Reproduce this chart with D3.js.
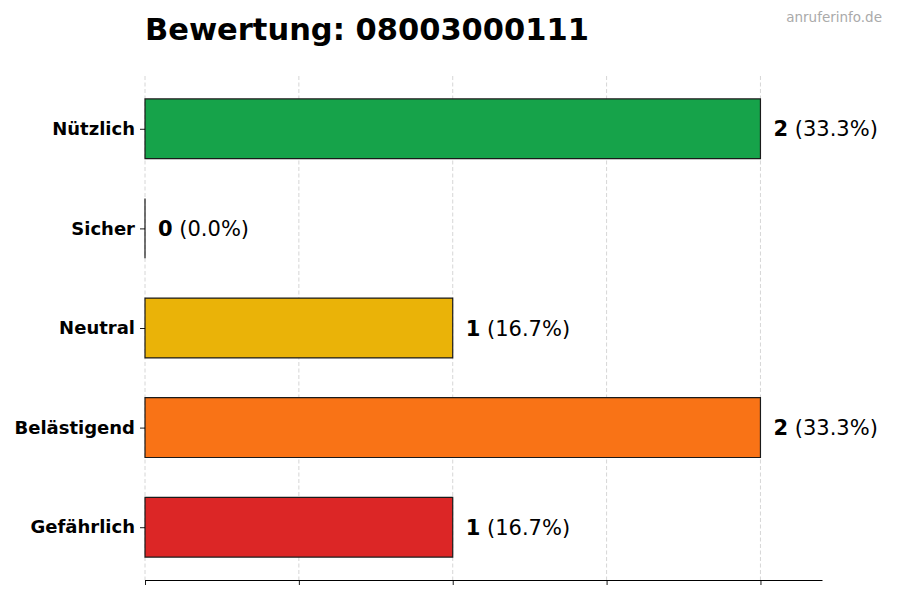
<!DOCTYPE html>
<html><head><meta charset="utf-8">
<script src="https://cdn.jsdelivr.net/npm/d3@7"></script>
<style>body{margin:0;background:#fff}svg{display:block}text{font-family:"DejaVu Sans",sans-serif}</style>
</head><body><svg id="c" width="900" height="600"></svg>
<script>
const categories = ["Nützlich","Sicher","Neutral","Belästigend","Gefährlich"];
const values = [2,0,1,2,1];
const percents = ["33.3%","0.0%","16.7%","33.3%","16.7%"];
const colors = ["#16a34a","#6b7280","#eab308","#f97316","#dc2626"];
const xTicks = [0,0.5,1,1.5,2];
const title = "Bewertung: 08003000111";
const watermark = "anruferinfo.de";

const svg = d3.select("#c");
const x = d3.scaleLinear().domain([0,2.2]).range([145,822]);
const y = d3.scaleLinear().domain([-0.53,4.53]).range([76,580]);
const barH = y(0.3)-y(-0.3);

// grid
svg.append("g").selectAll("line").data(xTicks).join("line")
  .attr("x1",d=>x(d)).attr("x2",d=>x(d)).attr("y1",y(-0.53)).attr("y2",y(4.53))
  .attr("stroke","#cccccc").attr("stroke-width",0.8).attr("stroke-dasharray","4,2.5");

// bars (as paths so zero-width bars still show their edge)
svg.append("g").selectAll("path").data(values).join("path")
  .attr("d",(d,i)=>{
    const p = d3.path();
    const x0 = x(0), y0 = y(i)-barH/2, w = x(d)-x(0);
    p.moveTo(x0,y0); p.lineTo(x0+w,y0); p.lineTo(x0+w,y0+barH); p.lineTo(x0,y0+barH); p.closePath();
    return p.toString();
  })
  .attr("fill",(d,i)=>colors[i]).attr("stroke","#1a1a1a").attr("stroke-width",1.2);

// value labels
const lab = svg.append("g").selectAll("text").data(values).join("text")
  .attr("x",d=>x(d)+13).attr("y",(d,i)=>y(i)).attr("dy","0.36em")
  .attr("font-size",21).attr("fill","#000");
lab.append("tspan").attr("font-weight","bold").text(d=>d);
lab.append("tspan").text((d,i)=>" ("+percents[i]+")");

// y axis
const yAxis = d3.axisLeft(y).tickValues(d3.range(categories.length)).tickFormat(i=>categories[i]).tickSize(5).tickPadding(5);
const gy = svg.append("g").attr("transform",`translate(${x(0)},0)`).call(yAxis);
gy.select(".domain").remove();
gy.selectAll("text").attr("font-size",18).attr("font-weight","bold").attr("fill","#000").style("font-family","DejaVu Sans");
gy.selectAll("line").attr("stroke","#000").attr("stroke-width",0.9);

// x axis
const xAxis = d3.axisBottom(x).tickValues(xTicks).tickFormat("").tickSize(5).tickSizeOuter(0);
const gx = svg.append("g").attr("transform",`translate(0,${y(4.53)})`).call(xAxis);
gx.select(".domain").attr("stroke","#000").attr("stroke-width",1.1);
gx.selectAll("line").attr("stroke","#000").attr("stroke-width",0.9);

// title
svg.append("text").attr("x",145).attr("y",40).attr("font-size",30.5).attr("font-weight","bold").attr("fill","#000").text(title);
svg.append("text").attr("x",882).attr("y",22).attr("text-anchor","end").attr("font-size",13.5).attr("fill","#aaaaaa").text(watermark);
</script></body></html>
